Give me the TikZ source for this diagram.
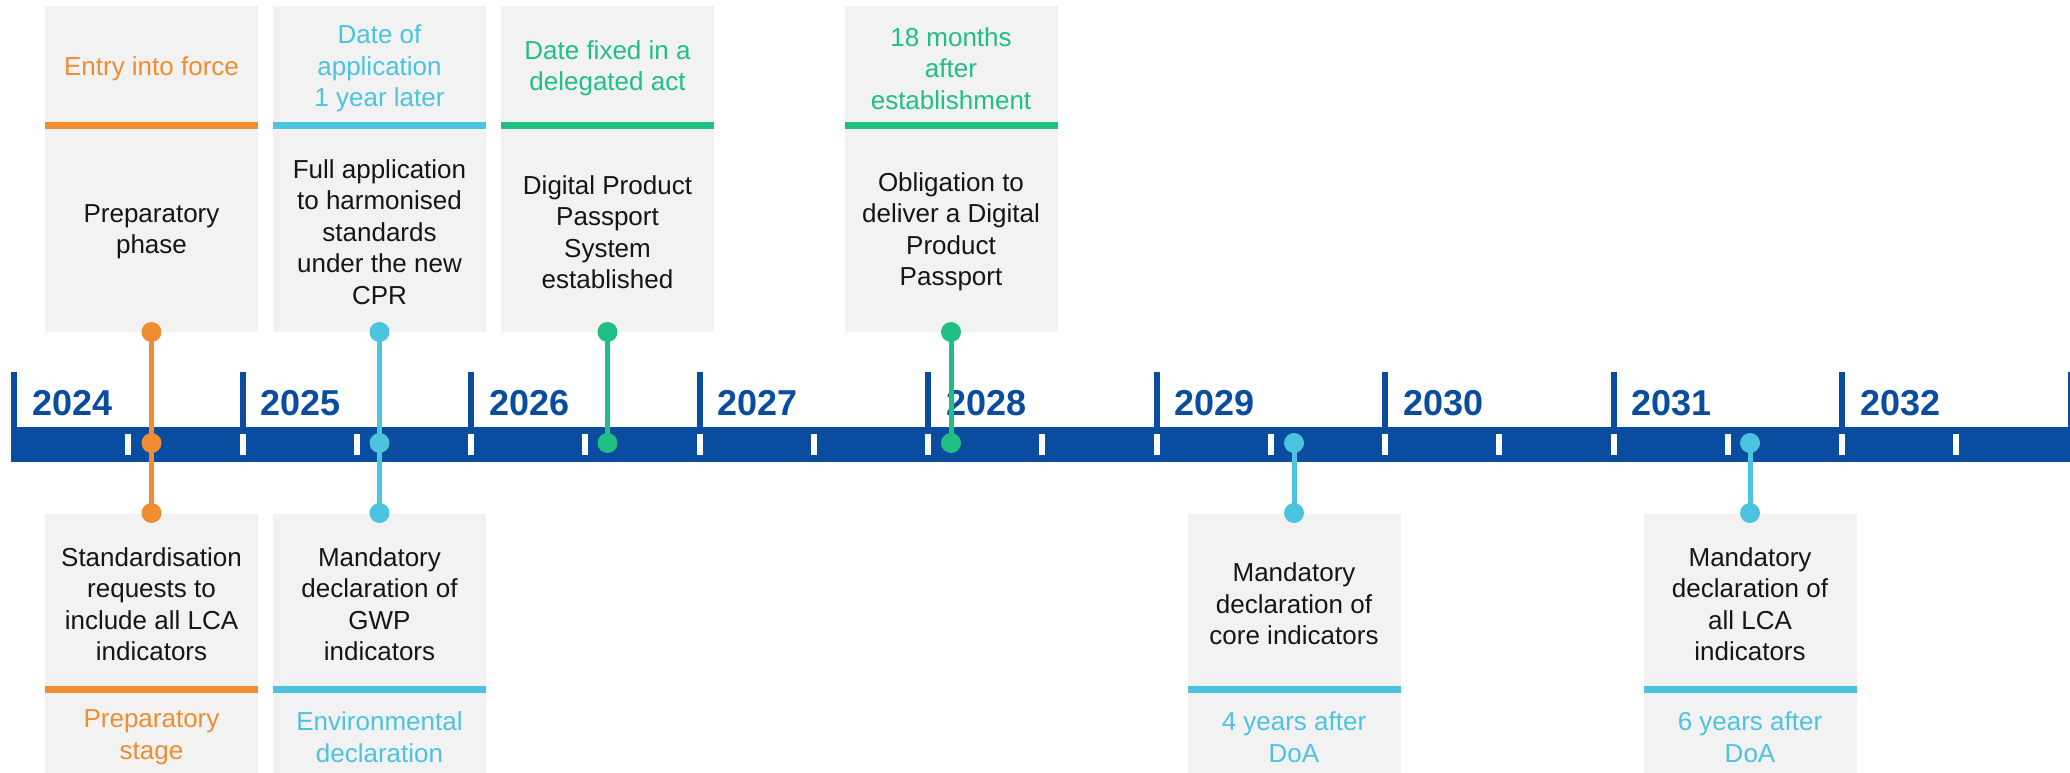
\documentclass[tikz,border=0pt]{standalone}
\usepackage{fontspec}
\setmainfont{Liberation Sans}
\definecolor{tlblue}{HTML}{0A4DA0}
\definecolor{tlorange}{HTML}{EF8D30}
\definecolor{tlcyan}{HTML}{4CC3DF}
\definecolor{tlgreen}{HTML}{20BF83}
\definecolor{boxgray}{HTML}{F2F2F2}
\definecolor{txt}{HTML}{151515}
\begin{document}
\begin{tikzpicture}[x=1pt,y=-1pt,
  card/.style={fill=boxgray, draw=none, minimum width=213pt, inner sep=0pt, outer sep=0pt, anchor=north},
  topcard/.style={card, minimum height=326pt},
  botcard/.style={card, minimum height=259pt},
  body/.style={font=\fontsize{26}{31.5}\selectfont, text=txt, align=center, inner sep=0pt},
  lbl/.style={font=\fontsize{26}{31.5}\selectfont, align=center, inner sep=0pt},
  dot/.style={circle, fill=#1, minimum size=20pt, inner sep=0pt},
  stem/.style={line width=5pt, draw=#1},
  band/.style={line width=7pt, draw=#1},
  yearlbl/.style={font=\fontsize{36}{36}\selectfont\bfseries, text=tlblue, anchor=base west, inner sep=0pt}
]
\useasboundingbox (0,0) rectangle (2070,773);

% ---------- top cards ----------
\node[topcard] (b1) at (151.5,6) {};
\node[topcard] (b2) at (379.5,6) {};
\node[topcard] (b3) at (607.5,6) {};
\node[topcard] (b4) at (951,6) {};
\draw[band=tlorange] (b1.west |- 0,125.5) -- (b1.east |- 0,125.5);
\draw[band=tlcyan]   (b2.west |- 0,125.5) -- (b2.east |- 0,125.5);
\draw[band=tlgreen]  (b3.west |- 0,125.5) -- (b3.east |- 0,125.5);
\draw[band=tlgreen]  (b4.west |- 0,125.5) -- (b4.east |- 0,125.5);

\node[lbl, text=tlorange] (l1) at (151.5,68.5) {Entry into force};
\node[lbl, text=tlcyan]   (l2) at (379.5,68.5) {Date of\\application\\1 year later};
\node[lbl, text=tlgreen]  (l3) at (607.5,68.5) {Date fixed in a\\delegated act};
\node[lbl, text=tlgreen]  (l4) at (951,68.5)   {18 months\\after\\establishment};

\node[body] (t1) at (151.5,232) {Preparatory\\phase};
\node[body] (t2) at (379.5,232) {Full application\\to harmonised\\standards\\under the new\\CPR};
\node[body] (t3) at (607.5,232) {Digital Product\\Passport\\System\\established};
\node[body] (t4) at (951,232)   {Obligation to\\deliver a Digital\\Product\\Passport};

% ---------- bottom cards ----------
\node[botcard] (b5) at (151.5,514) {};
\node[botcard] (b6) at (379.5,514) {};
\node[botcard] (b7) at (1294,514) {};
\node[botcard] (b8) at (1750,514) {};
\draw[band=tlorange] (b5.west |- 0,689) -- (b5.east |- 0,689);
\draw[band=tlcyan]   (b6.west |- 0,689) -- (b6.east |- 0,689);
\draw[band=tlcyan]   (b7.west |- 0,689) -- (b7.east |- 0,689);
\draw[band=tlcyan]   (b8.west |- 0,689) -- (b8.east |- 0,689);

\node[body] (t5) at (151.5,604) {Standardisation\\requests to\\include all LCA\\indicators};
\node[body] (t6) at (379.5,604) {Mandatory\\declaration of\\GWP\\indicators};
\node[body] (t7) at (1294,604)  {Mandatory\\declaration of\\core indicators};
\node[body] (t8) at (1750,604)  {Mandatory\\declaration of\\all LCA\\indicators};

\node[lbl, text=tlorange] (l5) at (151.5,737) {Preparatory\\stage};
\node[lbl, text=tlcyan]   (l6) at (379.5,737) {Environmental\\declaration};
\node[lbl, text=tlcyan]   (l7) at (1294,737)  {4 years after\\DoA};
\node[lbl, text=tlcyan]   (l8) at (1750,737)  {6 years after\\DoA};

% ---------- timeline ----------
\fill[tlblue] (11,427) rectangle (2070,462);
\foreach \k/\yr in {0/2024,1/2025,2/2026,3/2027,4/2028,5/2029,6/2030,7/2031,8/2032,9/{}} {
  \pgfmathsetmacro{\xx}{14+228.5*\k}
  \fill[tlblue] (\xx-3,372) rectangle (\xx+3,428);
  \node[yearlbl] (y\k) at (\xx+18,415) {\yr};
}
\foreach \m in {1,...,17} {
  \pgfmathsetmacro{\xx}{14+114.25*\m}
  \fill[white] (\xx-3,434) rectangle (\xx+3,455);
}

% ---------- markers ----------
\node[dot=tlorange] (d1a) at (151.5,332) {};
\node[dot=tlorange] (d1b) at (151.5,443) {};
\node[dot=tlorange] (d1c) at (151.5,513) {};
\node[dot=tlcyan]   (d2a) at (379.5,332) {};
\node[dot=tlcyan]   (d2b) at (379.5,443) {};
\node[dot=tlcyan]   (d2c) at (379.5,513) {};
\node[dot=tlgreen]  (d3a) at (607.5,332) {};
\node[dot=tlgreen]  (d3b) at (607.5,443) {};
\node[dot=tlgreen]  (d4a) at (951,332) {};
\node[dot=tlgreen]  (d4b) at (951,443) {};
\node[dot=tlcyan]   (d7b) at (1294,443) {};
\node[dot=tlcyan]   (d7c) at (1294,513) {};
\node[dot=tlcyan]   (d8b) at (1750,443) {};
\node[dot=tlcyan]   (d8c) at (1750,513) {};

\draw[stem=tlorange] (d1a.center) -- (d1b.center) -- (d1c.center);
\draw[stem=tlcyan]   (d2a.center) -- (d2b.center) -- (d2c.center);
\draw[stem=tlgreen]  (d3a.center) -- (d3b.center);
\draw[stem=tlgreen]  (d4a.center) -- (d4b.center);
\draw[stem=tlcyan]   (d7b.center) -- (d7c.center);
\draw[stem=tlcyan]   (d8b.center) -- (d8c.center);
\end{tikzpicture}
\end{document}
